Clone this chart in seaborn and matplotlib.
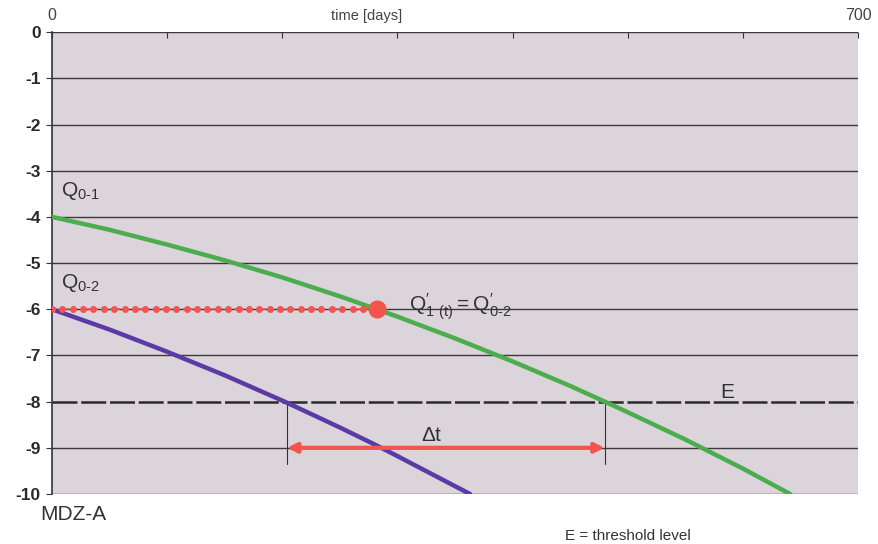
import matplotlib
matplotlib.use("Agg")
import matplotlib.pyplot as plt
import pandas as pd
import seaborn as sns

# curves (days, level)
days_q1 = [0, 50, 100, 150, 200, 250, 282, 300, 350, 400, 450, 480, 500, 550, 600, 641]
level_q1 = [-4.00, -4.28, -4.60, -4.94, -5.31, -5.72, -6.00, -6.16, -6.63, -7.13, -7.66, -8.00, -8.23, -8.82, -9.45, -10.0]
days_q2 = [0, 50, 100, 150, 202, 250, 282, 300, 363]
level_q2 = [-6.00, -6.44, -6.92, -7.43, -8.00, -8.56, -8.95, -9.18, -10.0]

dot_days = [0, 282]
dot_level = -6
threshold = -8
arrow_from, arrow_to = 204, 480
arrow_level = -9
y_ticks = list(range(0, -11, -1))
x_ticks = list(range(0, 701, 100))

sns.set_style("white")
plt.rcParams["font.family"] = ["Liberation Sans", "DejaVu Sans"]
plt.rcParams["mathtext.fontset"] = "custom"
plt.rcParams["mathtext.rm"] = "Liberation Sans"

fig = plt.figure(figsize=(8.79, 5.44), dpi=100)
ax = fig.add_axes([0.0592, 0.0919, 0.917, 0.849])
ax.set_facecolor("#dbd4db")

for y in y_ticks:
    if y == threshold:
        ax.axhline(y, color="#2a2a2a", lw=1.8, ls=(0, (10, 1.5)), zorder=1)
    else:
        ax.axhline(y, color="#3a3a3a", lw=1.0, zorder=1)

q1 = pd.DataFrame({"days": days_q1, "level": level_q1})
q2 = pd.DataFrame({"days": days_q2, "level": level_q2})
sns.lineplot(data=q1, x="days", y="level", color="#4cad4f", lw=3.2, ax=ax, zorder=3)
sns.lineplot(data=q2, x="days", y="level", color="#5b3aa6", lw=3.2, ax=ax, zorder=3)

# dotted Q0-2 level and the matching point
marker_days = list(range(dot_days[0], dot_days[1], 9))
ax.plot(dot_days, [dot_level, dot_level], color="#f2554e", lw=1.5, ls=(0, (1, 2.5)), zorder=4)
ax.plot(marker_days, [dot_level] * len(marker_days),
        ls="none", marker="o", ms=4, color="#f2554e", zorder=4)
ax.plot([dot_days[1]], [dot_level], marker="o", ms=12, color="#f2554e", zorder=5)

# delta t arrow with drop lines
for d in (arrow_from, arrow_to):
    ax.plot([d, d], [threshold, -9.35], color="#333333", lw=0.8, zorder=2)
ax.annotate("", xy=(arrow_from, arrow_level), xytext=(arrow_to, arrow_level),
            arrowprops=dict(arrowstyle="<|-|>", color="#f2554e", lw=3,
                            mutation_scale=14, shrinkA=0, shrinkB=0), zorder=4)

ax.set_xlim(0, 700)
ax.set_ylim(-10, 0)
ax.xaxis.tick_top()
ax.set_xticks(x_ticks)
ax.set_xticklabels(["" for _ in x_ticks])
ax.tick_params(axis="x", direction="in", length=4, color="#333333", top=True, bottom=False)
ax.set_yticks(y_ticks)
ax.set_yticklabels([str(v) for v in y_ticks], fontsize=12.5, fontweight="bold", color="#2a2a2a")
ax.tick_params(axis="y", direction="out", length=4, color="#333333", pad=4, left=True)
ax.set_xlabel("")
ax.set_ylabel("")
for side in ("top", "bottom", "right"):
    ax.spines[side].set_visible(False)
ax.spines["left"].set_color("#333333")
ax.spines["left"].set_linewidth(1.2)

ax.text(0, 1.02, "0", transform=ax.transAxes, fontsize=11.5, color="#444444", ha="center", va="bottom")
ax.text(1.0, 1.02, "700", transform=ax.transAxes, fontsize=11.5, color="#444444", ha="center", va="bottom")
ax.text(0.39, 1.02, "time [days]", transform=ax.transAxes, fontsize=10.5, color="#444444",
        ha="center", va="bottom")

ax.text(8, -3.55, r"$\mathregular{Q_{0\text{-}1}}$", fontsize=15, color="#333333")
ax.text(8, -5.55, r"$\mathregular{Q_{0\text{-}2}}$", fontsize=15, color="#333333")
ax.text(310, -6.05, r"$\mathregular{Q_{1\ (t)}' = Q_{0\text{-}2}'}$", fontsize=15, color="#333333")
ax.text(330, -8.85, r"$\Delta$t", fontsize=15, color="#333333", ha="center")
ax.text(580, -8.0, "E", fontsize=15, color="#333333", va="bottom")

fig.text(0.046, 0.045, "MDZ-A", fontsize=15, color="#333333")
fig.text(0.643, 0.007, "E = threshold level", fontsize=11, color="#333333")

fig.savefig("out.png", dpi=100)
